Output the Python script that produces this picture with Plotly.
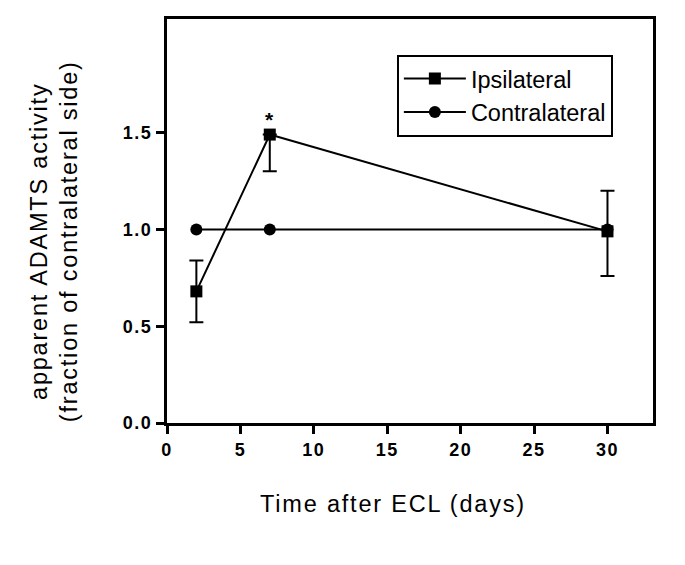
import plotly.graph_objects as go

days = [2, 7, 30]
ipsi = [0.68, 1.49, 0.99]
ipsi_err_plus = [0.16, 0.0, 0.21]
ipsi_err_minus = [0.16, 0.19, 0.23]
contra = [1.0, 1.0, 1.0]
x_ticks = [0, 5, 10, 15, 20, 25, 30]
y_ticks = [0.0, 0.5, 1.0, 1.5]

FONT = "Liberation Sans, Arial, sans-serif"
SP = '<span style="letter-spacing:1.8px">{}</span>'
TSP = '<span style="letter-spacing:1.5px">{}</span>'

fig = go.Figure()
fig.add_trace(go.Scatter(
    x=days, y=contra, name="Contralateral", mode="lines+markers",
    line=dict(color="black", width=2),
    marker=dict(symbol="circle", size=12, color="black"),
))
fig.add_trace(go.Scatter(
    x=days, y=ipsi, name="Ipsilateral", mode="lines+markers",
    line=dict(color="black", width=2),
    marker=dict(symbol="square", size=12, color="black"),
    error_y=dict(type="data", symmetric=False, array=ipsi_err_plus,
                 arrayminus=ipsi_err_minus, color="black", thickness=2, width=7),
))

fig.add_annotation(x=7, y=ipsi[1], text="<b>*</b>", showarrow=False,
                   yanchor="bottom", yshift=2, font=dict(size=21, color="black", family=FONT))

fig.add_annotation(xref="paper", yref="paper", x=-0.2325, y=0.45,
                   text=SP.format("apparent ADAMTS activity") + "<br>" +
                        SP.format("(fraction of contralateral side)"),
                   textangle=-90, showarrow=False, xanchor="center", yanchor="middle",
                   font=dict(size=23.5, color="black", family=FONT))

fig.add_annotation(xref="paper", yref="paper", x=0.464, y=-0.2015,
                   text=SP.format("Time after ECL (days)"),
                   showarrow=False, xanchor="center", yanchor="middle",
                   font=dict(size=23.5, color="black", family=FONT))

axis_common = dict(showgrid=False, zeroline=False, showline=True, linewidth=3,
                   linecolor="black", mirror=True, ticks="outside", ticklen=8,
                   tickwidth=3, tickcolor="black",
                   tickfont=dict(size=18, color="black", family=FONT, weight="bold"))

fig.update_xaxes(range=[0, 33.1], tickvals=x_ticks,
                 ticktext=[TSP.format(str(v)) for v in x_ticks], **axis_common)
fig.update_yaxes(range=[0, 2.087], tickvals=y_ticks,
                 ticktext=[TSP.format(f"{v:.1f}") for v in y_ticks], **axis_common)

fig.update_layout(
    width=677, height=557,
    margin=dict(l=159, r=32, t=8, b=142),
    plot_bgcolor="white", paper_bgcolor="white",
    font=dict(family=FONT, color="black"),
    legend=dict(x=0.473, y=0.9115, xanchor="left", yanchor="top",
                traceorder="reversed", bordercolor="black", borderwidth=2,
                bgcolor="white", font=dict(size=23.5, color="black", family=FONT),
                itemwidth=62),
    showlegend=True,
)

fig.write_html("out.html")
